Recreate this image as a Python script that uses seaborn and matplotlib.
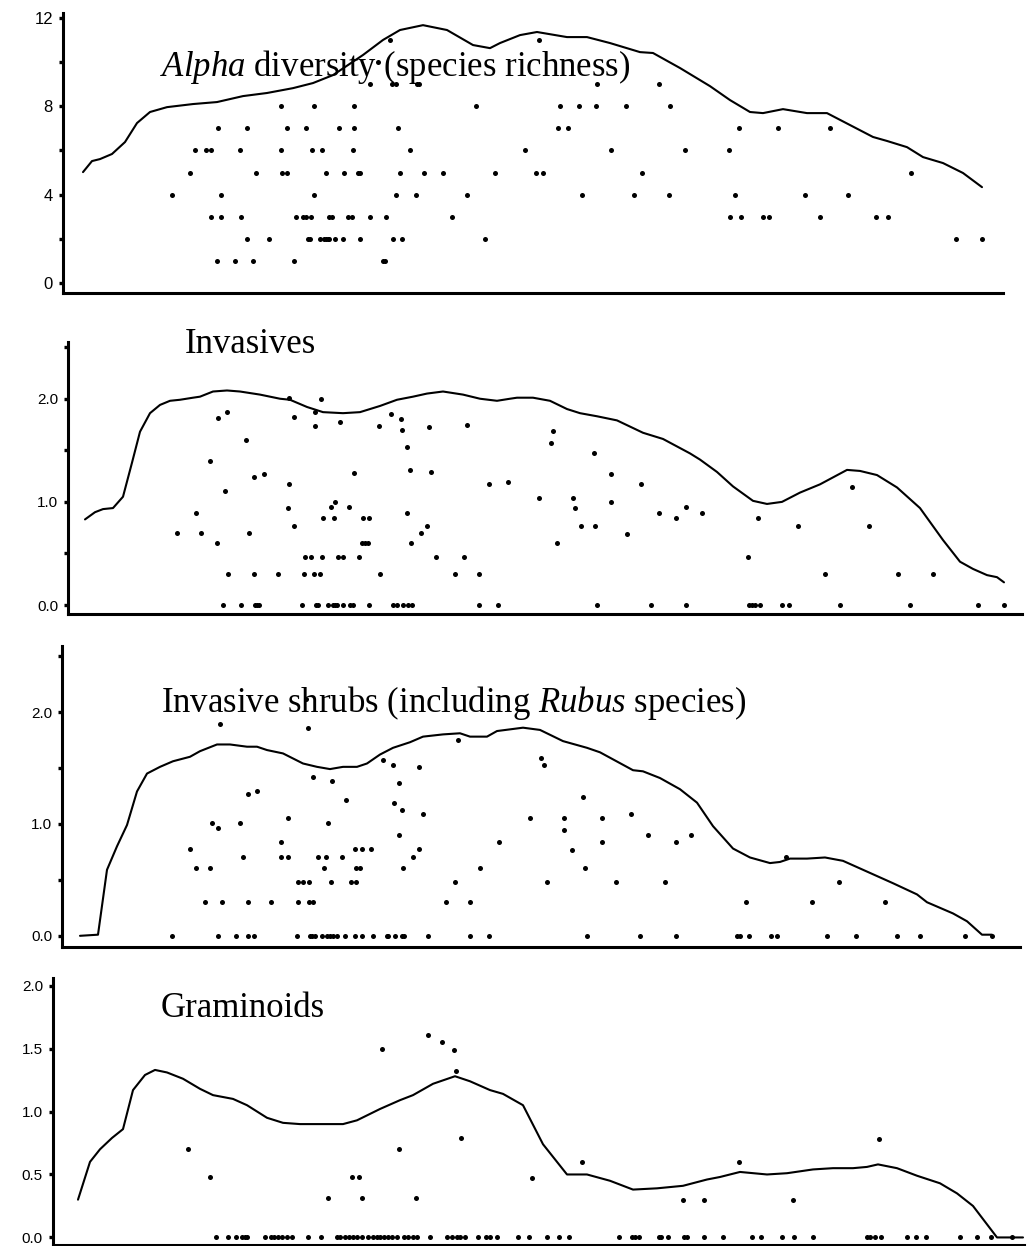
import numpy as np
import pandas as pd
import matplotlib
matplotlib.use("Agg")
import matplotlib.pyplot as plt
import seaborn as sns
from matplotlib.ticker import FixedLocator, MultipleLocator, FormatStrFormatter

# ---------------- data (x = position along the gradient) -------------
# Panel 1: Alpha diversity (species richness) -- points by richness level
alpha_levels = [11, 10, 9, 8, 7, 6, 5, 4, 3, 2, 1]
alpha_x_by_level = [
    [390, 539],
    [378],
    [370, 392, 396, 417, 419, 597, 659],
    [281, 314, 354, 476, 560, 579, 596, 626, 670],
    [218, 247, 287, 306, 339, 354, 398, 558, 568, 739, 778, 830],
    [195, 206, 211, 240, 281, 312, 322, 353, 410, 525, 611, 685, 729],
    [190, 256, 282, 287, 326, 344, 358, 360, 400, 424, 443, 495, 536, 543, 642, 911],
    [172, 221, 314, 396, 416, 467, 582, 634, 669, 735, 805, 848],
    [211, 221, 241, 296, 303, 306, 311, 329, 332, 348, 352, 370, 386, 452, 730, 741, 763,
     769, 820, 876, 888],
    [247, 269, 308, 310, 320, 324, 326, 328, 329, 335, 343, 360, 393, 402, 485, 956, 982],
    [217, 235, 253, 294, 383, 385],
]
alpha_line_x = [83, 92, 100, 112, 125, 137, 150, 167, 193, 217, 243, 267, 293, 313, 333, 363,
                383, 400, 423, 447, 473, 490, 500, 520, 537, 567, 587, 610, 640, 653, 680, 710,
                730, 750, 763, 783, 807, 827, 850, 873, 887, 907, 923, 943, 963, 982]
alpha_line_y = [5.02, 5.52, 5.61, 5.84, 6.38, 7.24, 7.74, 7.96, 8.10, 8.19, 8.46, 8.60, 8.82,
                9.05, 9.41, 10.32, 11.0, 11.45, 11.67, 11.45, 10.77, 10.63, 10.86, 11.22, 11.36,
                11.13, 11.13, 10.86, 10.45, 10.41, 9.73, 8.91, 8.28, 7.74, 7.69, 7.87, 7.69,
                7.69, 7.15, 6.61, 6.43, 6.15, 5.70, 5.43, 4.98, 4.34]

# Panel 2: Invasives
inv_x = [289, 321, 227, 218, 294, 315, 315, 340, 379, 391, 401, 402, 429, 467, 407, 246, 210,
         254, 264, 354, 410, 431, 289, 489, 508, 225, 335, 331, 288, 349, 196, 407, 323, 334,
         363, 369, 294, 427, 177, 201, 249, 421, 217, 362, 365, 368, 411, 305, 311, 322, 338,
         343, 359, 436, 464, 228, 254, 278, 304, 314, 320, 380, 455, 479,
         553, 551, 594, 611, 641, 539, 573, 575, 611, 659, 686, 702, 676, 758, 581, 595, 798,
         869, 852, 627, 557, 748, 825, 898, 933]
inv_y = [2.01, 2.00, 1.87, 1.81, 1.82, 1.87, 1.74, 1.77, 1.74, 1.85, 1.80, 1.70, 1.73, 1.75,
         1.53, 1.60, 1.40, 1.24, 1.27, 1.28, 1.31, 1.29, 1.17, 1.17, 1.19, 1.11, 1.00, 0.95,
         0.94, 0.95, 0.89, 0.89, 0.84, 0.84, 0.84, 0.84, 0.77, 0.77, 0.70, 0.70, 0.70, 0.70,
         0.60, 0.60, 0.60, 0.60, 0.60, 0.47, 0.47, 0.47, 0.47, 0.47, 0.47, 0.47, 0.47, 0.30,
         0.30, 0.30, 0.30, 0.30, 0.30, 0.30, 0.30, 0.30,
         1.69, 1.57, 1.47, 1.27, 1.17, 1.04, 1.04, 0.94, 1.00, 0.89, 0.95, 0.89, 0.84, 0.84,
         0.77, 0.77, 0.77, 0.77, 1.14, 0.69, 0.60, 0.47, 0.30, 0.30, 0.30]
inv_zero_x = [223, 241, 255, 257, 259, 302, 316, 318, 328, 333, 335, 337, 343, 350, 353, 369,
              393, 397, 403, 408, 412, 479, 498, 597, 651, 686, 749, 752, 755, 760, 782, 789,
              840, 910, 978, 1004]
inv_line_x = [85, 95, 103, 113, 123, 132, 140, 150, 160, 170, 180, 193, 200, 213, 227, 240, 260,
              280, 290, 307, 323, 343, 360, 380, 397, 413, 427, 443, 463, 480, 497, 510, 517,
              533, 550, 567, 580, 597, 617, 643, 663, 690, 700, 717, 733, 753, 767, 782, 800,
              820, 847, 860, 877, 897, 920, 943, 960, 973, 987, 997, 1004]
inv_line_y = [0.83, 0.90, 0.93, 0.94, 1.05, 1.38, 1.68, 1.86, 1.94, 1.98, 1.99, 2.01, 2.02,
              2.07, 2.08, 2.07, 2.04, 2.00, 1.99, 1.92, 1.87, 1.86, 1.87, 1.93, 1.99, 2.02,
              2.05, 2.07, 2.04, 2.00, 1.98, 2.00, 2.01, 2.01, 1.98, 1.90, 1.86, 1.83, 1.79,
              1.67, 1.61, 1.47, 1.41, 1.29, 1.15, 1.01, 0.98, 1.00, 1.09, 1.17, 1.31, 1.30,
              1.26, 1.14, 0.94, 0.63, 0.42, 0.35, 0.29, 0.27, 0.22]

# Panel 3: Invasive shrubs (including Rubus species)
shr_x = [220, 308, 306, 313, 332, 383, 393, 399, 419, 458, 248, 257, 346, 394, 402, 423, 288,
         212, 218, 240, 328, 281, 499, 399, 190, 355, 362, 371, 419, 243, 281, 288, 318, 326,
         342, 413, 196, 210, 324, 356, 360, 403, 480, 298, 303, 309, 331, 351, 356, 455, 205,
         222, 248, 271, 298, 309, 313, 446, 470,
         541, 544, 583, 631, 530, 564, 602, 564, 648, 691, 602, 676, 572, 786, 585, 547, 616,
         665, 839, 746, 812, 885]
shr_y = [1.89, 1.86, 2.12, 1.42, 1.38, 1.57, 1.53, 1.37, 1.51, 1.75, 1.27, 1.29, 1.21, 1.19,
         1.12, 1.09, 1.05, 1.01, 0.96, 1.01, 1.01, 0.84, 0.84, 0.90, 0.78, 0.78, 0.78, 0.78,
         0.78, 0.70, 0.70, 0.70, 0.70, 0.70, 0.70, 0.70, 0.61, 0.61, 0.61, 0.61, 0.61, 0.61,
         0.61, 0.48, 0.48, 0.48, 0.48, 0.48, 0.48, 0.48, 0.30, 0.30, 0.30, 0.30, 0.30, 0.30,
         0.30, 0.30, 0.30,
         1.59, 1.53, 1.24, 1.09, 1.05, 1.05, 1.05, 0.95, 0.90, 0.90, 0.84, 0.84, 0.77, 0.70,
         0.61, 0.48, 0.48, 0.48, 0.48, 0.30, 0.30, 0.30]
shr_zero_x = [172, 218, 236, 248, 254, 297, 310, 312, 315, 322, 327, 330, 333, 337, 345, 355,
              362, 373, 387, 388, 395, 402, 404, 428, 470, 489, 587, 640, 676, 737, 740, 749,
              771, 777, 827, 856, 897, 920, 965, 992]
shr_line_x = [80, 98, 107, 117, 127, 137, 147, 160, 173, 190, 200, 217, 230, 247, 257, 267, 283,
              303, 317, 330, 343, 357, 367, 380, 393, 410, 423, 443, 460, 470, 487, 497, 523,
              540, 563, 587, 600, 633, 643, 660, 680, 697, 713, 733, 750, 770, 780, 790, 807,
              825, 843, 873, 893, 917, 927, 940, 953, 967, 982, 992]
shr_line_y = [0.00, 0.01, 0.59, 0.80, 0.99, 1.29, 1.45, 1.51, 1.56, 1.60, 1.65, 1.71, 1.71,
              1.69, 1.69, 1.66, 1.63, 1.54, 1.51, 1.49, 1.51, 1.51, 1.54, 1.62, 1.68, 1.73,
              1.78, 1.80, 1.81, 1.78, 1.78, 1.83, 1.86, 1.84, 1.74, 1.68, 1.64, 1.48, 1.47,
              1.41, 1.31, 1.19, 0.98, 0.78, 0.70, 0.65, 0.66, 0.69, 0.69, 0.70, 0.67, 0.55,
              0.47, 0.37, 0.30, 0.25, 0.20, 0.13, 0.01, 0.01]

# Panel 4: Graminoids
gra_x = [428, 442, 454, 382, 456, 461, 188, 399, 210, 352, 359, 328, 362, 416, 879, 582, 739,
         532, 683, 704, 793]
gra_y = [1.61, 1.55, 1.49, 1.50, 1.32, 0.79, 0.70, 0.70, 0.48, 0.48, 0.48, 0.31, 0.31, 0.31,
         0.78, 0.60, 0.60, 0.47, 0.30, 0.30, 0.30]
gra_zero_x = [216, 228, 236, 242, 245, 247, 265, 271, 274, 278, 282, 287, 292, 308, 321, 337,
              340, 345, 349, 353, 357, 362, 368, 373, 377, 380, 384, 388, 392, 397, 404, 408,
              413, 417, 430, 447, 452, 457, 460, 465, 478, 486, 490, 497, 518, 529, 547, 559,
              569, 619, 632, 635, 639, 659, 661, 668, 684, 687, 704, 723, 752, 761, 782, 794,
              813, 867, 870, 875, 881, 907, 916, 926, 960, 977, 991, 1012]
gra_line_x = [78, 90, 100, 112, 123, 133, 145, 155, 167, 183, 200, 213, 233, 247, 267, 283, 300,
              343, 357, 380, 400, 413, 433, 455, 470, 490, 503, 523, 543, 567, 587, 610, 633,
              657, 683, 707, 720, 740, 767, 787, 813, 833, 853, 867, 878, 897, 917, 940, 957,
              973, 997, 1023]
gra_line_y = [0.30, 0.60, 0.70, 0.79, 0.86, 1.17, 1.29, 1.33, 1.31, 1.26, 1.18, 1.13, 1.10,
              1.05, 0.95, 0.91, 0.90, 0.90, 0.93, 1.02, 1.09, 1.13, 1.22, 1.28, 1.24, 1.17,
              1.14, 1.05, 0.74, 0.50, 0.50, 0.45, 0.38, 0.39, 0.41, 0.46, 0.48, 0.52, 0.50,
              0.51, 0.54, 0.55, 0.55, 0.56, 0.58, 0.55, 0.49, 0.43, 0.35, 0.25, 0.00, 0.00]

# ---------------- figure -------------
sns.set_theme(style="white")
plt.rcParams["font.family"] = ["Liberation Sans", "DejaVu Sans"]
plt.rcParams["mathtext.fontset"] = "custom"
plt.rcParams["mathtext.rm"] = "Liberation Serif"
plt.rcParams["mathtext.it"] = "Liberation Serif:italic"

W, H = 1027, 1246
fig = plt.figure(figsize=(W / 100, H / 100), dpi=100)
fig.patch.set_facecolor("white")


def add_axes_px(left, right, top, bottom):
    return fig.add_axes([left / W, 1 - bottom / H, (right - left) / W, (bottom - top) / H])


def style_axes(ax, xlim, ylim, major, minor, fmt, fs):
    ax.set_xlim(*xlim)
    ax.set_ylim(*ylim)
    ax.set_facecolor("white")
    for s in ["top", "right"]:
        ax.spines[s].set_visible(False)
    for s in ["left", "bottom"]:
        ax.spines[s].set_linewidth(2.2)
        ax.spines[s].set_color("black")
    ax.set_xticks([])
    ax.yaxis.set_major_locator(FixedLocator(major))
    ax.yaxis.set_minor_locator(FixedLocator(minor))
    ax.yaxis.set_major_formatter(FormatStrFormatter(fmt))
    ax.tick_params(axis="y", which="both", direction="out", length=3.2, width=2.4,
                   color="black", left=True, labelsize=fs, pad=4, labelcolor="black")
    ax.set_xlabel("")
    ax.set_ylabel("")
    ax.grid(False)


def draw(ax, px, py, lx, ly):
    sns.lineplot(x=lx, y=ly, ax=ax, color="black", linewidth=1.5, sort=False,
                 estimator=None, clip_on=False)
    sns.scatterplot(x=px, y=py, ax=ax, color="black", s=13, linewidth=0, clip_on=False)


# Panel 1
ax1 = add_axes_px(63, 1003, 13, 293)
p1x = [x for xs in alpha_x_by_level for x in xs]
p1y = [lv for lv, xs in zip(alpha_levels, alpha_x_by_level) for _ in xs]
draw(ax1, p1x, p1y, alpha_line_x, alpha_line_y)
style_axes(ax1, (63, 1003), (-0.45, 12.22), [0, 4, 8, 12], [2, 6, 10], "%d", 12)

# Panel 2
ax2 = add_axes_px(68, 1022, 342, 614)
draw(ax2, inv_x + inv_zero_x, inv_y + [0.0] * len(inv_zero_x), inv_line_x, inv_line_y)
style_axes(ax2, (68, 1022), (-0.087, 2.55), [0.0, 1.0, 2.0], [0.5, 1.5, 2.5], "%.1f", 11)

# Panel 3
ax3 = add_axes_px(62, 1020, 646, 947)
draw(ax3, shr_x + shr_zero_x, shr_y + [0.0] * len(shr_zero_x), shr_line_x, shr_line_y)
style_axes(ax3, (62, 1020), (-0.1, 2.59), [0.0, 1.0, 2.0], [0.5, 1.5, 2.5], "%.1f", 11)

# Panel 4
ax4 = add_axes_px(53, 1024, 978, 1245)
draw(ax4, gra_x + gra_zero_x, gra_y + [0.0] * len(gra_zero_x), gra_line_x, gra_line_y)
style_axes(ax4, (53, 1024), (-0.06, 2.06), [0.0, 0.5, 1.0, 1.5, 2.0], [], "%.1f", 11)

# Panel titles
title_kw = dict(fontsize=25, family=["Liberation Serif", "DejaVu Serif"], color="black",
                va="baseline", ha="left")
fig.text(160 / W, 1 - 76 / H, r"$\mathit{Alpha}$ diversity (species richness)", **title_kw)
fig.text(185 / W, 1 - 353 / H, "Invasives", **title_kw)
fig.text(161 / W, 1 - 712 / H, r"Invasive shrubs (including $\mathit{Rubus}$ species)",
         **title_kw)
fig.text(161 / W, 1 - 1017 / H, "Graminoids", **title_kw)

fig.savefig("out.png", dpi=100, facecolor="white")
